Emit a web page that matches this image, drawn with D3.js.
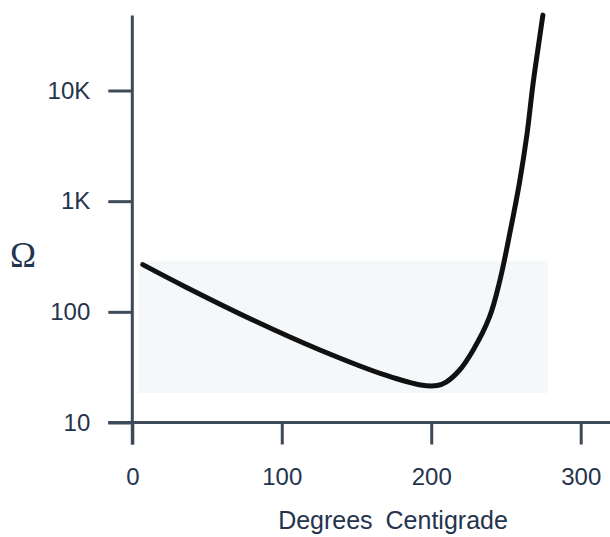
<!DOCTYPE html>
<html>
<head>
<meta charset="utf-8">
<script src="https://cdn.jsdelivr.net/npm/d3@7"></script>
<style>
  body { margin: 0; background: #fff; }
  text { font-family: "Liberation Sans", Arial, sans-serif; fill: #25344d; }
</style>
</head>
<body>
<script>
// resistance (ohms) vs temperature
var degrees = [7, 36, 81, 126, 170, 193, 204, 210, 219, 228, 239, 246, 253, 259, 264, 268, 271.3, 274.7];
var ohms = [267, 167, 84, 45, 26.6, 21.8, 21.6, 23.2, 29.8, 45, 90, 194, 548, 1460, 3960, 11200, 23200, 48000];

var xTicks = [0, 100, 200, 300];
var yTicks = [10, 100, 1000, 10000];
var yTickLabels = ["10", "100", "1K", "10K"];

var svg = d3.select("body").append("svg")
    .attr("width", 610)
    .attr("height", 537)

var x = d3.scaleLinear()
    .domain([0, 300])
    .range([132.3, 580.7])

var y = d3.scaleLog()
    .domain([10, 10000])
    .range([422.5, 90.5])

// faint tint behind the curve (scan background)
svg.append("rect")
    .attr("x", x(4)).attr("y", y(290))
    .attr("width", x(278) - x(4)).attr("height", y(18.5) - y(290))
    .attr("fill", "#f5f8fa")

var axisColor = "#3c4a5a";

// y axis
var yAxis = svg.append("g")
    .attr("transform", "translate(" + x(0) + ",0)")
    .call(d3.axisLeft(y).tickValues(yTicks)
        .tickFormat(function (d, i) { return yTickLabels[i]; })
        .tickSize(24).tickPadding(18))
yAxis.select(".domain").remove()
yAxis.selectAll("line").attr("stroke", axisColor).attr("stroke-width", 3)
yAxis.selectAll("text").attr("font-size", 24).attr("fill", "#25344d")
    .attr("font-family", "Liberation Sans, Arial, sans-serif")

// x axis
var xAxis = svg.append("g")
    .attr("transform", "translate(0," + y(10) + ")")
    .call(d3.axisBottom(x).tickValues(xTicks).tickSize(22).tickPadding(23))
xAxis.select(".domain").remove()
xAxis.selectAll("line").attr("stroke", axisColor).attr("stroke-width", 3)
xAxis.selectAll("text").attr("font-size", 24).attr("fill", "#25344d")
    .attr("font-family", "Liberation Sans, Arial, sans-serif")

// axis lines, crossing past the origin
svg.append("line")
    .attr("x1", x(0)).attr("x2", x(0))
    .attr("y1", y(10) + 22).attr("y2", y(47500))
    .attr("stroke", axisColor).attr("stroke-width", 3)
svg.append("line")
    .attr("x1", x(0) - 24).attr("x2", 610)
    .attr("y1", y(10)).attr("y2", y(10))
    .attr("stroke", axisColor).attr("stroke-width", 3)

// curve
var line = d3.line()
    .x(function (d, i) { return x(degrees[i]); })
    .y(function (d) { return y(d); })
    .curve(d3.curveCatmullRom.alpha(0.5))

svg.append("path")
    .attr("d", line(ohms))
    .attr("fill", "none")
    .attr("stroke", "#111")
    .attr("stroke-width", 5)
    .attr("stroke-linecap", "round")

// labels
svg.append("text")
    .attr("x", 23).attr("y", 267)
    .attr("text-anchor", "middle")
    .attr("font-size", 35)
    .style("font-family", "'Liberation Serif', serif")
    .text("Ω")

svg.append("text")
    .attr("x", 393).attr("y", 529)
    .attr("text-anchor", "middle")
    .attr("font-size", 25)
    .attr("word-spacing", 6)
    .text("Degrees Centigrade")
</script>
</body>
</html>
